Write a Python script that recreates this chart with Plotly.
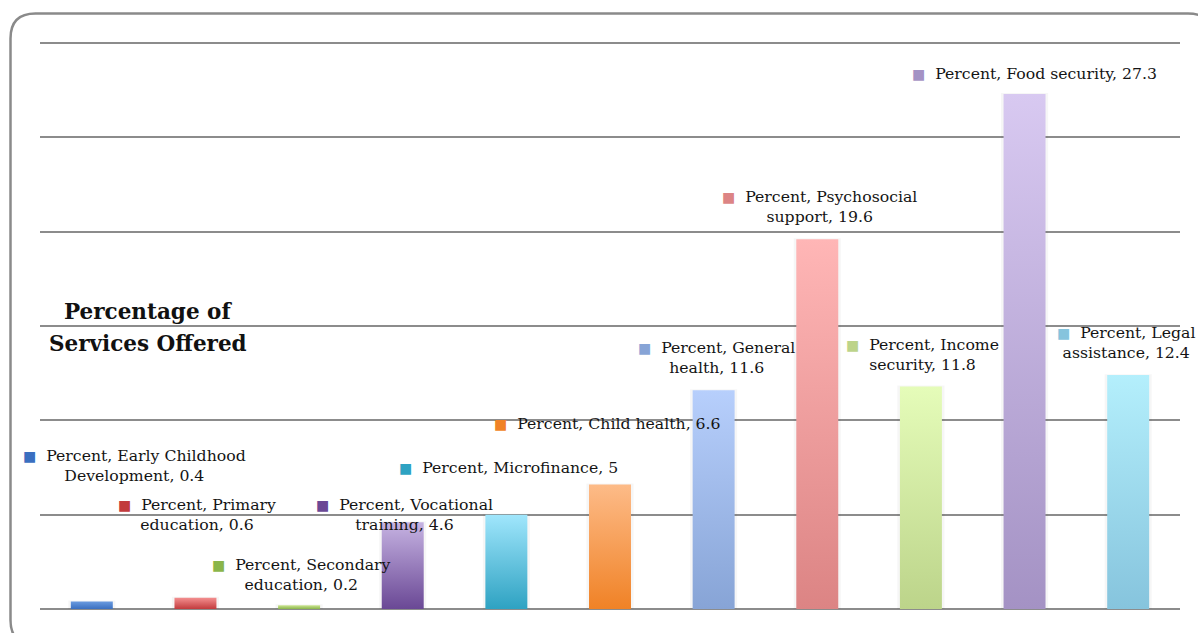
import plotly.graph_objects as go

# Services offered, percent of respondents
categories = [
    "Early Childhood Development", "Primary education", "Secondary education",
    "Vocational training", "Microfinance", "Child health", "General health",
    "Psychosocial support", "Income security", "Food security", "Legal assistance",
]
values = [0.4, 0.6, 0.2, 4.6, 5, 6.6, 11.6, 19.6, 11.8, 27.3, 12.4]
value_text = ["0.4", "0.6", "0.2", "4.6", "5", "6.6", "11.6", "19.6", "11.8", "27.3", "12.4"]

# gradient colours per bar: (top, bottom)
bar_colors = [
    ("#6a9be0", "#3a6fc0"),
    ("#f49090", "#c23b3d"),
    ("#cde694", "#8ab54a"),
    ("#c6b3e2", "#6a4895"),
    ("#a0e6fc", "#2ea2c2"),
    ("#fdbb88", "#f08226"),
    ("#b7cffc", "#87a4d6"),
    ("#ffb6b6", "#dc8484"),
    ("#e5fcb9", "#bcd48a"),
    ("#d8c9f1", "#a492c4"),
    ("#b4effc", "#86c4dd"),
]

# label layout: line break, horizontal/vertical offsets in px
label_lines = [
    ("Percent, Early Childhood", "Development, "),
    ("Percent, Primary", "education, "),
    ("Percent, Secondary", "education, "),
    ("Percent, Vocational", "training, "),
    ("Percent, Microfinance, ", None),
    ("Percent, Child health, ", None),
    ("Percent, General", "health, "),
    ("Percent, Psychosocial", "support, "),
    ("Percent, Income", "security, "),
    ("Percent, Food security, ", None),
    ("Percent, Legal", "assistance, "),
]
label_dx = [43, 2, 2, 2, 2, -3, 3, 2, 2, 10, -2]
label_dy = [136, 83, 31, 7.5, 47.5, 61, 33, 32.6, 32, 21, 33]

BAR_W = 0.405
FONT = "DejaVu Serif"

fig = go.Figure()

for i, (v, (top, bottom)) in enumerate(zip(values, bar_colors)):
    # faint shadow behind the bar
    sw = BAR_W + 0.05
    fig.add_trace(go.Scatter(
        x=[i - sw / 2, i + sw / 2, i + sw / 2, i - sw / 2, i - sw / 2],
        y=[0, 0, v + 0.05, v + 0.05, 0],
        fill="toself", mode="lines", line=dict(width=0),
        fillcolor="rgba(0,0,0,0.035)", hoverinfo="skip", showlegend=False,
    ))
    fig.add_trace(go.Scatter(
        x=[i - BAR_W / 2, i + BAR_W / 2, i + BAR_W / 2, i - BAR_W / 2, i - BAR_W / 2],
        y=[0, 0, v, v, 0],
        fill="toself", mode="lines", line=dict(width=0),
        fillgradient=dict(type="vertical", colorscale=[[0, bottom], [1, top]]),
        name=categories[i], showlegend=False,
        hovertemplate=f"{categories[i]}: {value_text[i]}<extra></extra>",
    ))

for i, v in enumerate(values):
    first, second = label_lines[i]
    square = f"<span style='color:{bar_colors[i][1]};font-size:14px'>■</span>  "
    if second is None:
        text = square + first + value_text[i]
    else:
        text = square + first + "<br>" + second + value_text[i]
    fig.add_annotation(
        x=i, y=v, xref="x", yref="y", text=text, showarrow=False,
        xanchor="center", yanchor="middle", align="center",
        xshift=label_dx[i], yshift=label_dy[i],
        font=dict(family=FONT, size=15.7, color="#141414"),
    )

# two-line heading on the left
def px(xp):
    return (xp - 40) / 1140

def py(yp):
    return (609 - yp) / 567

for line, y_px in [("Percentage of", 311), ("Services Offered", 343)]:
    fig.add_annotation(
        x=px(148), y=py(y_px), xref="paper", yref="paper",
        text=f"<b>{line}</b>", showarrow=False,
        xanchor="center", yanchor="middle",
        font=dict(family=FONT, size=21.5, color="#111111"),
    )

# rounded frame around the chart area
L, T, R, B, rad = 10.5, 13.5, 1213, 645, 25
path = (
    f"M {px(L)},{py(B - rad)} L {px(L)},{py(T + rad)} "
    f"Q {px(L)},{py(T)} {px(L + rad)},{py(T)} "
    f"L {px(R - rad)},{py(T)} Q {px(R)},{py(T)} {px(R)},{py(T + rad)} "
    f"L {px(R)},{py(B - rad)} Q {px(R)},{py(B)} {px(R - rad)},{py(B)} "
    f"L {px(L + rad)},{py(B)} Q {px(L)},{py(B)} {px(L)},{py(B - rad)} Z"
)
fig.add_shape(type="path", path=path, xref="paper", yref="paper",
              line=dict(color="#8a8a8a", width=2.5), layer="below")

fig.update_xaxes(range=[-0.5, 10.5], showgrid=False, zeroline=False,
                 showticklabels=False, ticks="", showline=False)
fig.update_yaxes(range=[0, 30.06], dtick=5, tick0=0, showgrid=True, gridcolor="#8c8c8c",
                 gridwidth=2, zeroline=True, zerolinecolor="#8c8c8c", zerolinewidth=2,
                 showticklabels=False, ticks="", showline=False)

fig.update_layout(
    width=1198, height=633,
    margin=dict(l=40, r=18, t=42, b=24),
    paper_bgcolor="white", plot_bgcolor="white",
    showlegend=False,
)

fig.write_html("out.html")
